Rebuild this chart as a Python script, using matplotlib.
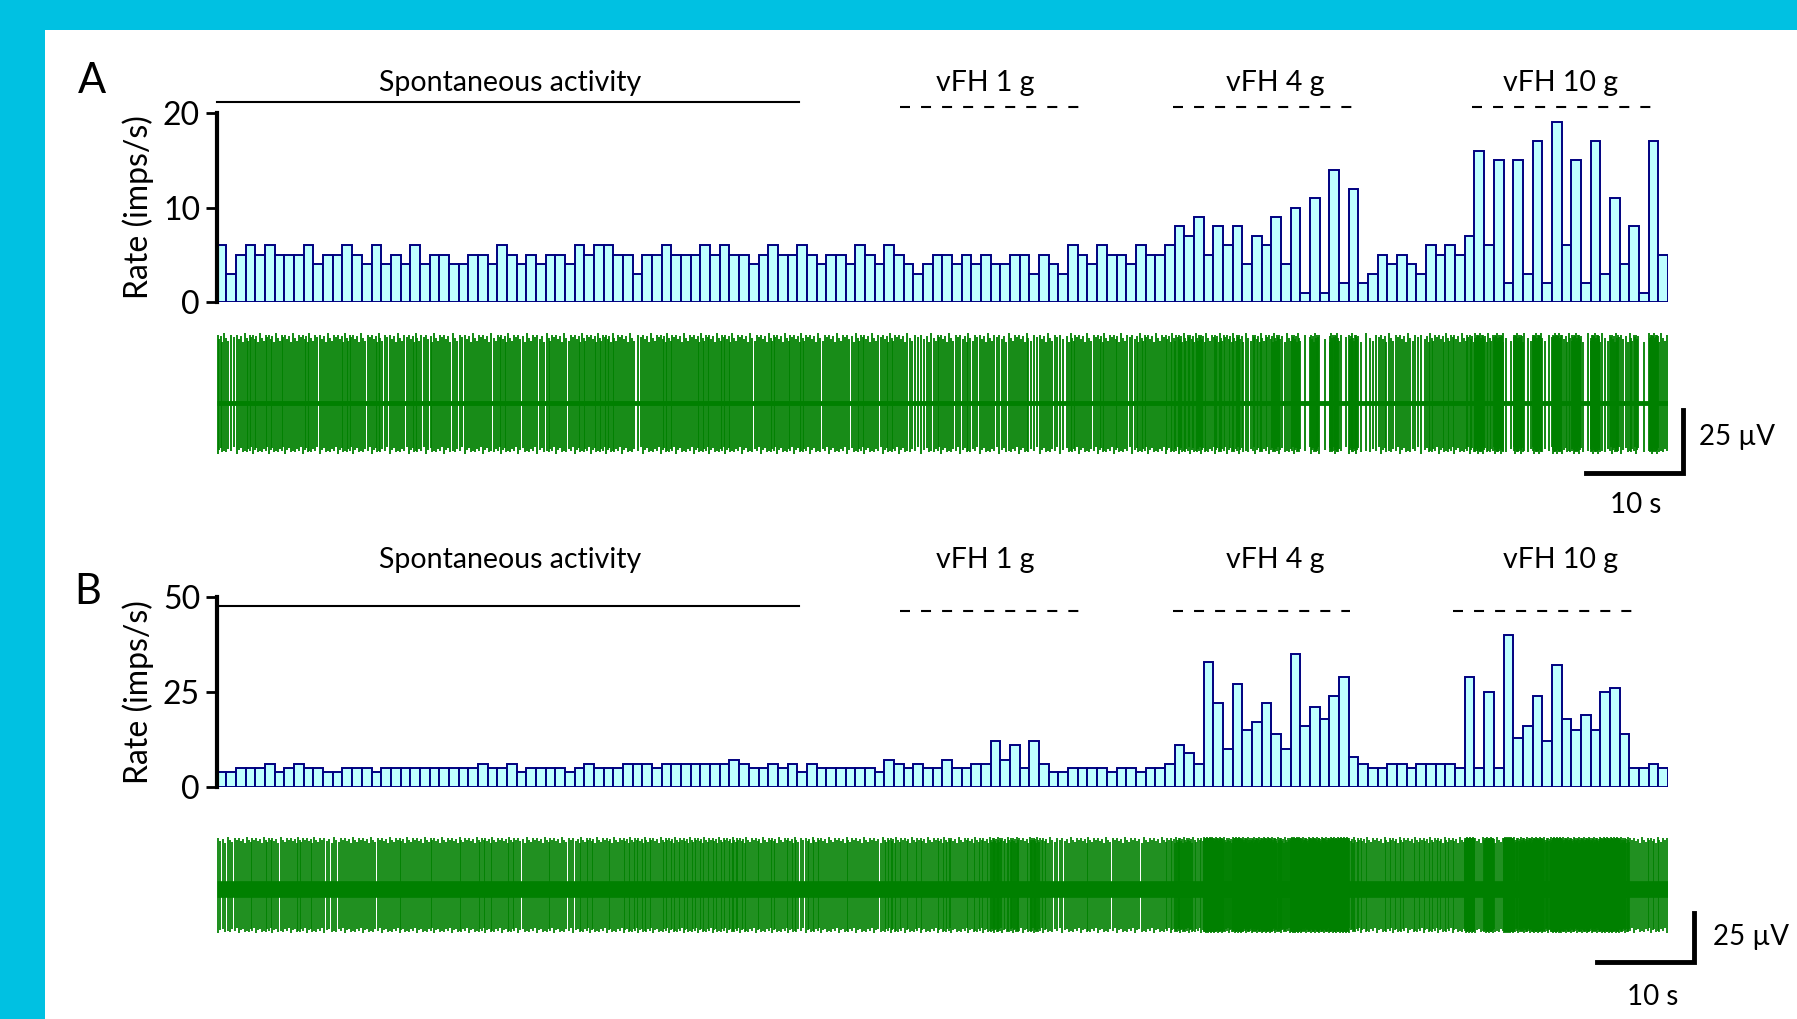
import numpy as np
import matplotlib
matplotlib.use('Agg')
import matplotlib.pyplot as plt
import matplotlib.transforms as mtransforms
from matplotlib.patches import Rectangle

plt.rcParams['font.family'] = ['Lato', 'DejaVu Sans']

# firing rate per 1 s bin (imps/s)
rate_a = [6, 3, 5, 6, 5, 6, 5, 5, 5, 6, 4, 5, 5, 6, 5, 4, 6, 4, 5, 4,
          6, 4, 5, 5, 4, 4, 5, 5, 4, 6, 5, 4, 5, 4, 5, 5, 4, 6, 5, 6,
          6, 5, 5, 3, 5, 5, 6, 5, 5, 5, 6, 5, 6, 5, 5, 4, 5, 6, 5, 5,
          6, 5, 4, 5, 5, 4, 6, 5, 4, 6, 5, 4, 3, 4, 5, 5, 4, 5, 4, 5,
          4, 4, 5, 5, 3, 5, 4, 3, 6, 5, 4, 6, 5, 5, 4, 6, 5, 5, 6, 8,
          7, 9, 5, 8, 6, 8, 4, 7, 6, 9, 4, 10, 1, 11, 1, 14, 2, 12, 2, 3,
          5, 4, 5, 4, 3, 6, 5, 6, 5, 7, 16, 6, 15, 2, 15, 3, 17, 2, 19, 6,
          15, 2, 17, 3, 11, 4, 8, 1, 17, 5]
rate_b = [4, 4, 5, 5, 5, 6, 4, 5, 6, 5, 5, 4, 4, 5, 5, 5, 4, 5, 5, 5,
          5, 5, 5, 5, 5, 5, 5, 6, 5, 5, 6, 4, 5, 5, 5, 5, 4, 5, 6, 5,
          5, 5, 6, 6, 6, 5, 6, 6, 6, 6, 6, 6, 6, 7, 6, 5, 5, 6, 5, 6,
          4, 6, 5, 5, 5, 5, 5, 5, 4, 7, 6, 5, 6, 5, 5, 7, 5, 5, 6, 6,
          12, 7, 11, 5, 12, 6, 4, 4, 5, 5, 5, 5, 4, 5, 5, 4, 5, 5, 6, 11,
          9, 6, 33, 22, 10, 27, 15, 17, 22, 14, 10, 35, 16, 21, 18, 24, 29, 8, 6, 5,
          5, 6, 6, 5, 6, 6, 6, 6, 5, 29, 5, 25, 5, 40, 13, 16, 24, 12, 32, 18,
          15, 19, 15, 25, 26, 14, 5, 5, 6, 5]

stim_names = ['Spontaneous activity', 'vFH 1 g', 'vFH 4 g', 'vFH 10 g']
stim_label_x = [30.3, 79.4, 109.4, 138.9]
periods_a = [(0, 60.2), (70.6, 89.5), (98.8, 118.2), (129.7, 149.0)]
periods_b = [(0, 60.2), (70.6, 89.8), (98.8, 117.1), (127.8, 146.7)]

# spike amplitudes (uV, up / down) and a small set of height factors
spike_a = (27.0, 19.5)
spike_b = (26.0, 22.0)
amp_cycle = [1.0, 0.94, 0.98, 0.9, 1.03, 0.96, 0.92, 1.0, 0.97]

W, H = 1797, 1019
BG = '#00C1E2'
BAR_FACE = '#BFFFFF'
BAR_EDGE = '#000080'
GREEN = '#008000'

fig = plt.figure(figsize=(W / 100, H / 100), dpi=100)
fig.patch.set_facecolor(BG)
fig.add_artist(Rectangle((45 / W, 0), 1 - 45 / W, 1 - 30 / H, transform=fig.transFigure,
                         facecolor='white', edgecolor='none', zorder=-1))


def fy(y):
    return 1 - y / H


def px_axes(x0, y0, x1, y1):
    ax = fig.add_axes([x0 / W, 1 - y1 / H, (x1 - x0) / W, (y1 - y0) / H])
    ax.set_facecolor('none')
    return ax


def draw_panel(letter, letter_xy, rates, ymax, yticks, bar_box, periods,
               line_y, text_y, trace_box, trace_ylim, spike, spike_lw, band_lw,
               bar_end, scale_y, uv_xy, s_xy):
    n = len(rates)
    # rate histogram
    ax = px_axes(*bar_box)
    ax.bar(np.arange(n), rates, width=1.0, align='edge', color=BAR_FACE,
           edgecolor=BAR_EDGE, linewidth=1.4, zorder=2)
    ax.set_xlim(0, n)
    ax.set_ylim(0, ymax)
    ax.set_yticks(yticks)
    ax.set_xticks([])
    for s in ['top', 'right', 'bottom']:
        ax.spines[s].set_visible(False)
    ax.spines['left'].set_linewidth(3)
    ax.spines['left'].set_zorder(3)
    ax.tick_params(axis='y', length=8, width=2, labelsize=23, pad=4)
    fig.text(138 / W, fy((bar_box[1] + bar_box[3]) / 2), 'Rate (imps/s)',
             rotation=90, ha='center', va='center', fontsize=23)
    fig.text(letter_xy[0] / W, fy(letter_xy[1]), letter, fontsize=30,
             ha='center', va='center')

    # stimulus periods
    blend = mtransforms.blended_transform_factory(ax.transData, fig.transFigure)
    for i, (name, (a, b)) in enumerate(zip(stim_names, periods)):
        if i == 0:
            ax.plot([a, b], [fy(line_y[0])] * 2, transform=blend, color='black',
                    lw=1.5, clip_on=False)
        else:
            ax.plot([a, b], [fy(line_y[1])] * 2, transform=blend, color='black',
                    lw=1.5, ls=(0, (4.8, 5.3)), clip_on=False)
        ax.text(stim_label_x[i], fy(text_y), name, transform=blend,
                ha='center', va='center', fontsize=20.5)

    # spike trace built from the binned counts
    at = px_axes(*trace_box)
    at.axis('off')
    at.set_xlim(0, n)
    at.set_ylim(*trace_ylim)
    times, tops, bots = [], [], []
    k = 0
    for i, r in enumerate(rates):
        for j in range(r):
            times.append(i + (j + 0.5) / r)
            tops.append(spike[0] * amp_cycle[k % len(amp_cycle)])
            bots.append(-spike[1] * amp_cycle[(k + 4) % len(amp_cycle)])
            k += 1
    at.vlines(times, bots, tops, color=GREEN, lw=spike_lw)
    at.plot([0, n], [0, 0], color=GREEN, lw=band_lw, solid_capstyle='butt')

    # scale bar: 10 s and 25 uV
    at.plot([bar_end - 10, bar_end, bar_end], [scale_y, scale_y, scale_y + 25],
            color='black', lw=3.5, clip_on=False, solid_joinstyle='miter')
    at.text(uv_xy[0], uv_xy[1], '25 \u00b5V', ha='left', va='center', fontsize=20)
    at.text(s_xy[0], s_xy[1], '10 s', ha='center', va='center', fontsize=20)


draw_panel('A', (92, 81), rate_a, 20, [0, 10, 20], (216.7, 113, 1668, 302),
           periods_a, (102, 107), 83, (216.7, 325, 1668, 465), (-24.6, 31.0),
           spike_a, 1.3, 3.5, 151.5, -27.8, (153.2, -13.5), (146.7, -40.5))
draw_panel('B', (88, 592), rate_b, 50, [0, 25, 50], (216.7, 597, 1668, 787),
           periods_b, (606, 611), 560, (216.7, 825, 1668, 945), (-28.6, 32.7),
           spike_b, 1.25, 12, 152.7, -37.2, (154.6, -24.5), (148.4, -55))

fig.savefig('out.png', dpi=100, facecolor=fig.get_facecolor())
